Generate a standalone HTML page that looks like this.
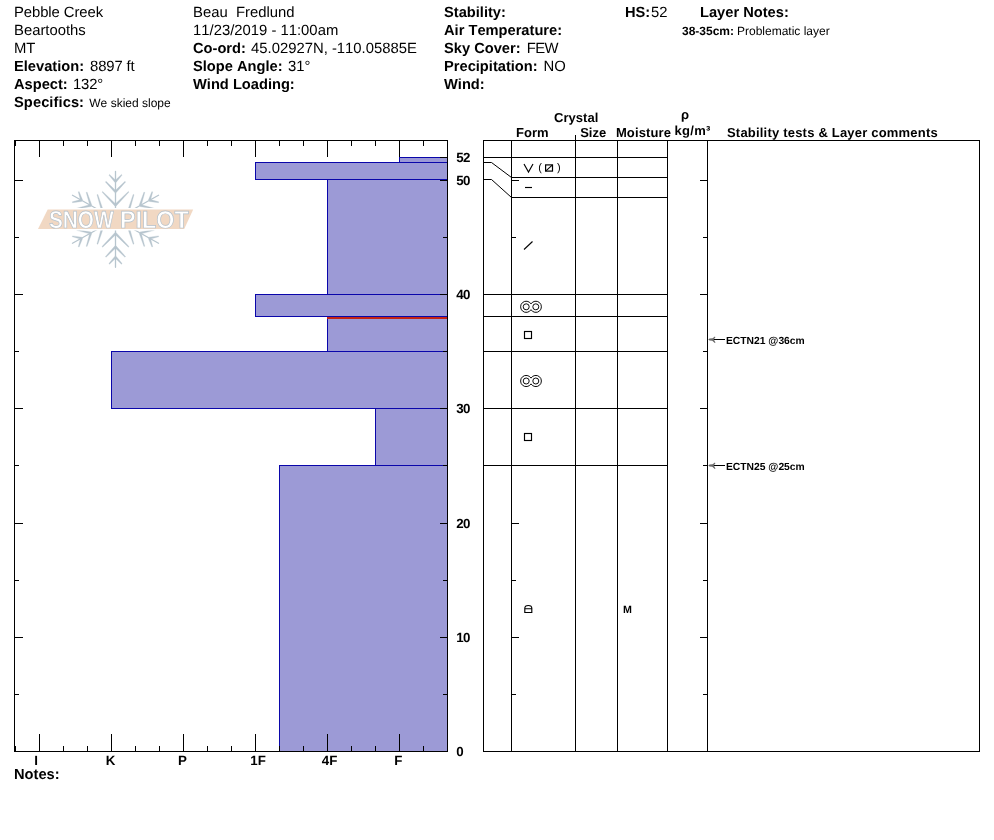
<!DOCTYPE html>
<html lang="en">
<head>
<meta charset="utf-8">
<title>Snow Pilot - Pebble Creek</title>
<style>
html,body{margin:0;padding:0;background:#fff;}
body{width:994px;height:840px;overflow:hidden;}
svg{display:block;}
text{font-family:"Liberation Sans",Arial,Helvetica,sans-serif;white-space:pre;font-kerning:none;text-rendering:geometricPrecision;}
text.b{font-weight:bold;}
</style>
</head>
<body>
<svg width="994" height="840" viewBox="0 0 994 840">
<rect width="994" height="840" fill="#fff"/>
<text class="r" font-size="14.85" x="14" y="17" textLength="89.1">Pebble Creek</text>
<text class="r" font-size="14.85" x="14" y="35">Beartooths</text>
<text class="r" font-size="14.85" x="14" y="53">MT</text>
<text class="b" font-size="14.67" x="14" y="71">Elevation:</text>
<text class="r" font-size="14.85" x="90" y="71" textLength="44.7">8897 ft</text>
<text class="b" font-size="14.67" x="14" y="89">Aspect:</text>
<text class="r" font-size="14.85" x="73" y="89" textLength="30.3">132°</text>
<text class="b" font-size="14.67" x="14" y="107" textLength="70">Specifics:</text>
<text class="r" font-size="12" x="89.3" y="107">We skied slope</text>
<text class="r" font-size="14.85" x="193" y="17">Beau  Fredlund</text>
<text class="r" font-size="14.85" x="193" y="35">11/23/2019 - 11:00am</text>
<text class="b" font-size="14.67" x="193" y="53">Co-ord:</text>
<text class="r" font-size="14.85" x="251" y="53">45.02927N, -110.05885E</text>
<text class="b" font-size="14.67" x="193" y="71">Slope Angle:</text>
<text class="r" font-size="14.85" x="288" y="71">31°</text>
<text class="b" font-size="14.67" x="193" y="89">Wind Loading:</text>
<text class="b" font-size="14.67" x="444" y="17">Stability:</text>
<text class="b" font-size="14.67" x="444" y="35">Air Temperature:</text>
<text class="b" font-size="14.67" x="444" y="53">Sky Cover:</text>
<text class="r" font-size="14.85" x="526.8" y="53" textLength="31.6">FEW</text>
<text class="b" font-size="14.67" x="444" y="71">Precipitation:</text>
<text class="r" font-size="14.85" x="543.6" y="71">NO</text>
<text class="b" font-size="14.67" x="444" y="89">Wind:</text>
<text class="b" font-size="14.67" x="625" y="17">HS:</text>
<text class="r" font-size="14.85" x="651" y="17">52</text>
<text class="b" font-size="14.67" x="700" y="17">Layer Notes:</text>
<text class="b" font-size="12" x="682" y="35">38-35cm:</text>
<text class="r" font-size="12" x="737" y="35">Problematic layer</text>
<rect x="399.5" y="157.5" width="48" height="5" fill="#9c9ad6" stroke="#0a06aa"/>
<rect x="255.5" y="162.5" width="192" height="17" fill="#9c9ad6" stroke="#0a06aa"/>
<rect x="327.5" y="179.5" width="120" height="115" fill="#9c9ad6" stroke="#0a06aa"/>
<rect x="255.5" y="294.5" width="192" height="22" fill="#9c9ad6" stroke="#0a06aa"/>
<rect x="327.5" y="316.5" width="120" height="35" fill="#9c9ad6" stroke="#0a06aa"/>
<rect x="111.5" y="351.5" width="336" height="57" fill="#9c9ad6" stroke="#0a06aa"/>
<rect x="375.5" y="408.5" width="72" height="57" fill="#9c9ad6" stroke="#0a06aa"/>
<rect x="279.5" y="465.5" width="168" height="286" fill="#9c9ad6" stroke="#0a06aa"/>
<rect x="327" y="317" width="120" height="2" fill="#c32316"/>
<g stroke="#000" fill="none" shape-rendering="crispEdges"><rect x="14.5" y="140.5" width="433" height="611" fill="none"/><path d="M39.5 140V157"/><path d="M39.5 734V752"/><path d="M63.5 140V146"/><path d="M63.5 746V752"/><path d="M87.5 140V146"/><path d="M87.5 746V752"/><path d="M111.5 140V157"/><path d="M111.5 734V752"/><path d="M135.5 140V146"/><path d="M135.5 746V752"/><path d="M159.5 140V146"/><path d="M159.5 746V752"/><path d="M183.5 140V157"/><path d="M183.5 734V752"/><path d="M207.5 140V146"/><path d="M207.5 746V752"/><path d="M231.5 140V146"/><path d="M231.5 746V752"/><path d="M255.5 140V157"/><path d="M255.5 734V752"/><path d="M279.5 140V146"/><path d="M279.5 746V752"/><path d="M303.5 140V146"/><path d="M303.5 746V752"/><path d="M327.5 140V157"/><path d="M327.5 734V752"/><path d="M351.5 140V146"/><path d="M351.5 746V752"/><path d="M375.5 140V146"/><path d="M375.5 746V752"/><path d="M399.5 140V157"/><path d="M399.5 734V752"/><path d="M423.5 140V146"/><path d="M423.5 746V752"/><path d="M15.5 140V146"/><path d="M15.5 746V751"/><path d="M14 694.5H19"/><path d="M443 694.5H448"/><path d="M14 637.5H23"/><path d="M440 637.5H448"/><path d="M14 580.5H19"/><path d="M443 580.5H448"/><path d="M14 523.5H23"/><path d="M440 523.5H448"/><path d="M14 465.5H19"/><path d="M443 465.5H448"/><path d="M14 408.5H23"/><path d="M440 408.5H448"/><path d="M14 351.5H19"/><path d="M443 351.5H448"/><path d="M14 294.5H23"/><path d="M440 294.5H448"/><path d="M14 237.5H19"/><path d="M443 237.5H448"/><path d="M14 180.5H23"/><path d="M440 180.5H448"/><path d="M440 157.5H448"/></g>
<text class="b" font-size="13.33" x="456.3" y="756" textLength="7">0</text>
<text class="b" font-size="13.33" x="456.3" y="642" textLength="14">10</text>
<text class="b" font-size="13.33" x="456.3" y="528" textLength="14">20</text>
<text class="b" font-size="13.33" x="456.3" y="413" textLength="14">30</text>
<text class="b" font-size="13.33" x="456.3" y="299" textLength="14">40</text>
<text class="b" font-size="13.33" x="456.3" y="185" textLength="14">50</text>
<text class="b" font-size="13.33" x="456.3" y="162" textLength="14">52</text>
<text class="b" font-size="13.33" x="34.15" y="765">I</text>
<text class="b" font-size="13.33" x="105.69" y="765">K</text>
<text class="b" font-size="13.33" x="177.95" y="765">P</text>
<text class="b" font-size="13.33" x="250.22" y="765">1F</text>
<text class="b" font-size="13.33" x="321.72" y="765">4F</text>
<text class="b" font-size="13.33" x="394.13" y="765">F</text>
<text class="b" font-size="14.67" x="14" y="779">Notes:</text>
<g stroke="#000" fill="none" shape-rendering="crispEdges"><rect x="483.5" y="140.5" width="496" height="611" fill="none"/><path d="M511.5 140V751"/><path d="M575.5 135V751"/><path d="M617.5 140V751"/><path d="M667.5 140V751"/><path d="M707.5 140V751"/><path d="M483 157.5H668"/><path d="M483 294.5H668"/><path d="M483 316.5H668"/><path d="M483 351.5H668"/><path d="M483 408.5H668"/><path d="M483 465.5H668"/><path d="M511 177.5H668"/><path d="M511 197.5H668"/><path d="M511 694.5H516"/><path d="M703 694.5H708"/><path d="M511 637.5H519"/><path d="M700 637.5H708"/><path d="M511 580.5H516"/><path d="M703 580.5H708"/><path d="M511 523.5H519"/><path d="M700 523.5H708"/><path d="M511 465.5H516"/><path d="M703 465.5H708"/><path d="M511 408.5H519"/><path d="M700 408.5H708"/><path d="M511 351.5H516"/><path d="M703 351.5H708"/><path d="M511 294.5H519"/><path d="M700 294.5H708"/><path d="M511 237.5H516"/><path d="M703 237.5H708"/><path d="M511 180.5H519"/><path d="M700 180.5H708"/></g>
<g stroke="#000" fill="none"><path d="M483.5 162.5H491.5L511.5 177.5"/><path d="M483.5 179.5H491.5L511.5 197.5"/></g>
<text class="b" font-size="13" x="554.1" y="122" textLength="44.2">Crystal</text>
<text class="b" font-size="13" x="516" y="137" textLength="32.6">Form</text>
<text class="b" font-size="13" x="580.2" y="137">Size</text>
<text class="b" font-size="13" x="615.9" y="137" textLength="55.1">Moisture</text>
<text class="b" font-size="13" x="681" y="118.6">ρ</text>
<text class="b" font-size="13" x="674.6" y="135" textLength="35.8">kg/m³</text>
<text class="b" font-size="13" x="727" y="137" textLength="210.7">Stability tests &amp; Layer comments</text>
<g stroke="#000" stroke-width="1.15" fill="none"><path d="M524 164L528.5 172L533 164"/><rect x="545.6" y="164.9" width="6.9" height="6.2" stroke-width="1.2"/><path d="M545.6 171.1L552.5 164.9" stroke-width="1.1"/><path d="M525 187.5H532"/><path d="M524 249.5L532.5 241.5"/><g stroke-width=".95"><path d="M531 303.92A5.6 5.6 0 1 0 531 309.68A5.6 5.6 0 1 0 531 303.92Z"/><circle cx="526.2" cy="306.8" r="3"/><circle cx="535.8" cy="306.8" r="3"/><path d="M531 378.12A5.6 5.6 0 1 0 531 383.88A5.6 5.6 0 1 0 531 378.12Z"/><circle cx="526.2" cy="381" r="3"/><circle cx="535.8" cy="381" r="3"/></g><rect x="524.5" y="331.5" width="7" height="7"/><rect x="524.5" y="433.5" width="7" height="7"/><path d="M524.8 612.5V608.3Q524.8 605.5 528.3 605.5Q531.8 605.5 531.8 608.3V612.5ZM524.8 608.7H531.8"/></g>
<text class="r" font-size="11" x="538.3" y="171.3">(</text>
<text class="r" font-size="11" x="557" y="171.3">)</text>
<text class="b" font-size="10.7" x="622.9" y="612.8">M</text>
<path d="M713 339.5H725" stroke="#000"/>
<path d="M708.2 339.5L709.6 338.4L712.6 338.3L714.9 336.6L715.4 337.3L713.8 339.5L715.5 342.4L714.8 343L712.3 340.7L709.6 340.6Z" fill="#6a6a6a"/>
<text class="b" font-size="10.3" x="726" y="344">ECTN21 @36cm</text>
<path d="M713 465.5H725" stroke="#000"/>
<path d="M708.2 465.5L709.6 464.4L712.6 464.3L714.9 462.6L715.4 463.3L713.8 465.5L715.5 468.4L714.8 469L712.3 466.7L709.6 466.6Z" fill="#6a6a6a"/>
<text class="b" font-size="10.3" x="726" y="470">ECTN25 @25cm</text>
<g><path d="M115.5 219.3L115.5 171.3M115.5 219.3L72.48 195.3M115.5 219.3L72.48 243.3M115.5 219.3L115.5 267.3M115.5 219.3L158.52 243.3M115.5 219.3L158.52 195.3" stroke="#b7c5ce" stroke-width="1.3" fill="none" stroke-linecap="round"/><path d="M116.27 180.79L109.54 174.41L108.88 175.03L114.73 182.21ZM116.27 182.21L122.12 175.03L121.46 174.41L114.73 180.79ZM116.26 191.07L106.02 181.31L105.37 181.94L114.74 192.53ZM116.26 192.53L125.63 181.94L124.98 181.31L114.74 191.07ZM116.25 204.46L102.65 191.46L102.01 192.09L114.75 205.94ZM116.25 205.94L128.99 192.09L128.35 191.46L114.75 204.46ZM81.41 199.37L72.3 201.83L72.48 202.72L81.83 201.43ZM82.61 200.06L79.11 191.6L78.26 191.89L80.62 200.74ZM90.62 204.53L76.73 208.23L76.92 209.11L91.08 206.57ZM91.85 205.23L87.06 192.12L86.2 192.39L89.85 205.87ZM102.62 211.23L84.14 216.12L84.34 217L103.1 213.27ZM103.87 211.94L97.84 194.38L96.98 194.65L101.86 212.56ZM80.62 237.86L78.26 246.71L79.11 247L82.61 238.54ZM81.83 237.17L72.48 235.88L72.3 236.77L81.41 239.23ZM89.85 232.73L86.2 246.21L87.06 246.48L91.85 233.37ZM91.08 232.03L76.92 229.49L76.73 230.37L90.62 234.07ZM101.86 226.04L96.98 243.95L97.84 244.22L103.87 226.66ZM103.1 225.33L84.34 221.6L84.14 222.48L102.62 227.37ZM114.73 257.81L121.46 264.19L122.12 263.57L116.27 256.39ZM114.73 256.39L108.88 263.57L109.54 264.19L116.27 257.81ZM114.74 247.53L124.98 257.29L125.63 256.66L116.26 246.07ZM114.74 246.07L105.37 256.66L106.02 257.29L116.26 247.53ZM114.75 234.14L128.35 247.14L128.99 246.51L116.25 232.66ZM114.75 232.66L102.01 246.51L102.65 247.14L116.25 234.14ZM149.59 239.23L158.7 236.77L158.52 235.88L149.17 237.17ZM148.39 238.54L151.89 247L152.74 246.71L150.38 237.86ZM140.38 234.07L154.27 230.37L154.08 229.49L139.92 232.03ZM139.15 233.37L143.94 246.48L144.8 246.21L141.15 232.73ZM128.38 227.37L146.86 222.48L146.66 221.6L127.9 225.33ZM127.13 226.66L133.16 244.22L134.02 243.95L129.14 226.04ZM150.38 200.74L152.74 191.89L151.89 191.6L148.39 200.06ZM149.17 201.43L158.52 202.72L158.7 201.83L149.59 199.37ZM141.15 205.87L144.8 192.39L143.94 192.12L139.15 205.23ZM139.92 206.57L154.08 209.11L154.27 208.23L140.38 204.53ZM129.14 212.56L134.02 194.65L133.16 194.38L127.13 211.94ZM127.9 213.27L146.66 217L146.86 216.12L128.38 211.23Z" fill="#b7c5ce" stroke="#b7c5ce" stroke-width=".3" stroke-linejoin="round"/><path d="M47.7 209.5H193L184 229H38Z" fill="#fff" stroke="#fff" stroke-width="3" stroke-linejoin="round"/><path d="M47.7 209.5H193.2L184.2 229H38Z" fill="#f1d8c3"/><text class="b" font-size="24.4" y="227.7" fill="#fff" stroke="#b3bfc9" stroke-width=".7"><tspan x="48.9" textLength="64.8" lengthAdjust="spacingAndGlyphs">SNOW</tspan> <tspan x="119.9" textLength="68.9" lengthAdjust="spacingAndGlyphs">PILOT</tspan></text></g>
</svg>
</body>
</html>
